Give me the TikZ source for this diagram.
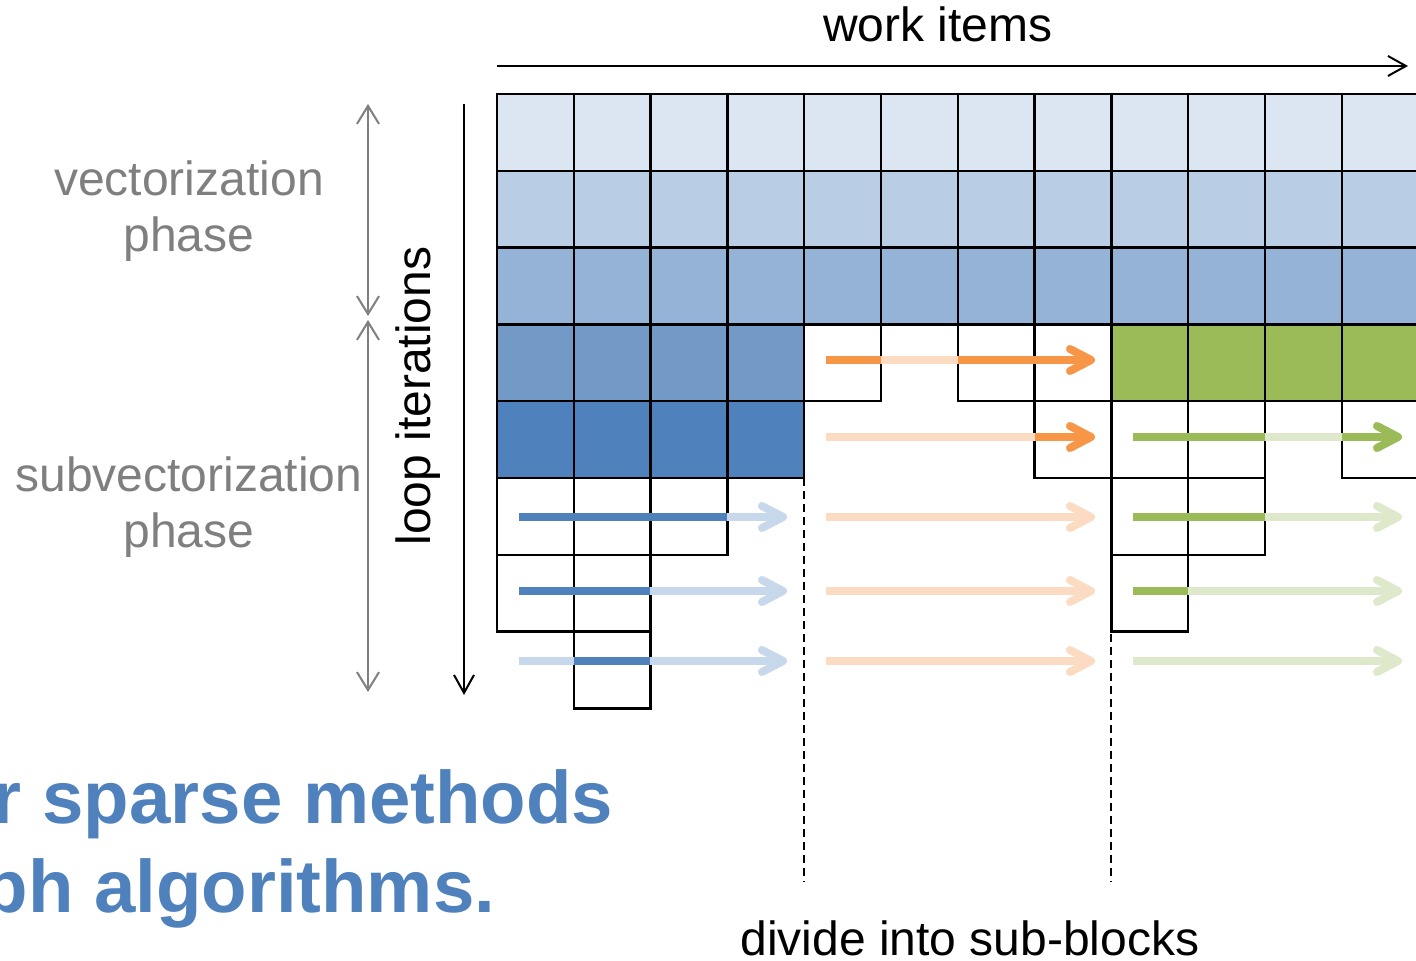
\documentclass[tikz,border=0pt]{standalone}
\usepackage{fontspec}
\setmainfont{Liberation Sans}
\usetikzlibrary{arrows.meta}

\definecolor{rowA}{HTML}{DCE6F2}
\definecolor{rowB}{HTML}{B9CDE5}
\definecolor{rowC}{HTML}{95B3D7}
\definecolor{rowD}{HTML}{7399C6}
\definecolor{rowE}{HTML}{4F81BD}
\definecolor{grn}{HTML}{9BBB59}
\definecolor{orn}{HTML}{F79646}
\definecolor{lblue}{HTML}{C8D8EC}
\definecolor{lorn}{HTML}{FBDCC2}
\definecolor{lgrn}{HTML}{DEE9CB}
\definecolor{phasegray}{HTML}{7F7F7F}
\definecolor{titleblue}{HTML}{4F81BD}

% one grid cell: column, row, fill colour
\newcommand\gcell[3]{%
  \draw[cellline, fill=#3] ({497+#1*76.8},{94+#2*76.8}) rectangle ++(76.8,76.8);}
% one bar piece of a lane arrow: y, x from, x to, colour
\newcommand\seg[4]{\draw[barline, #4] (#2,#1) -- (#3,#1);}
% open arrow head of a lane arrow: y, apex x, colour
\newcommand\chev[3]{\draw[chevline, #3] ({#2-21},{#1-11}) -- (#2,#1) -- ({#2-21},{#1+11});}

\begin{document}
\begin{tikzpicture}[x=0.25pt, y=-0.25pt,
  cellline/.style={draw=black, line width=0.6pt},
  barline/.style={line width=1.8pt, line cap=butt},
  chevline/.style={line width=2pt, line cap=round, line join=round},
  axisarrow/.style={draw=black, line width=0.5pt, -{Straight Barb[length=4.5pt,width=5pt]}},
  phasearrow/.style={draw=phasegray, line width=0.5pt,
    {Straight Barb[length=4.5pt,width=5.5pt]}-{Straight Barb[length=4.5pt,width=5.5pt]}},
  divider/.style={draw=black, line width=0.5pt, dash pattern=on 2pt off 1.25pt},
  lbl/.style={font=\fontsize{12}{14}\selectfont, inner sep=0pt, anchor=base},
  phaselbl/.style={lbl, text=phasegray},
  bigblue/.style={font=\fontsize{18.6}{22}\selectfont\bfseries, text=titleblue, inner sep=0pt, anchor=base east}
]
\useasboundingbox (0,0) rectangle (1416,961);
\begin{scope}
\clip (0,0) rectangle (1416,961);

% ---- full rows of the vectorization phase
\foreach \c in {0,...,11} {
  \gcell{\c}{0}{rowA}
  \gcell{\c}{1}{rowB}
  \gcell{\c}{2}{rowC}
}
% ---- fourth row
\foreach \c in {0,...,3} { \gcell{\c}{3}{rowD} }
\gcell{4}{3}{white}
\gcell{6}{3}{white}
\gcell{7}{3}{white}
\foreach \c in {8,...,11} { \gcell{\c}{3}{grn} }
% ---- fifth row
\foreach \c in {0,...,3} { \gcell{\c}{4}{rowE} }
\gcell{7}{4}{white}
\gcell{8}{4}{white}
\gcell{9}{4}{white}
\gcell{11}{4}{white}
% ---- remaining ragged rows
\gcell{0}{5}{white}
\gcell{1}{5}{white}
\gcell{2}{5}{white}
\gcell{8}{5}{white}
\gcell{9}{5}{white}
\gcell{0}{6}{white}
\gcell{1}{6}{white}
\gcell{8}{6}{white}
\gcell{1}{7}{white}

% ---- sub-block dividers
\coordinate (d1top) at (804,478);
\coordinate (d1bot) at (804,882);
\coordinate (d2top) at (1111,478);
\coordinate (d2bot) at (1111,882);
\draw[divider] (d1top) -- (d1bot);
\draw[divider] (d2top) -- (d2bot);

% ---- lane arrows, blue block
\seg{517}{519}{727}{rowE}  \seg{517}{727}{783}{lblue}  \chev{517}{783}{lblue}
\seg{591}{519}{650}{rowE}  \seg{591}{650}{783}{lblue}  \chev{591}{783}{lblue}
\seg{661}{519}{574}{lblue} \seg{661}{574}{650}{rowE}   \seg{661}{650}{783}{lblue} \chev{661}{783}{lblue}

% ---- lane arrows, orange block
\seg{360}{826}{881}{orn}   \seg{360}{881}{958}{lorn}   \seg{360}{958}{1091}{orn} \chev{360}{1091}{orn}
\seg{437}{826}{1035}{lorn} \seg{437}{1035}{1091}{orn}  \chev{437}{1091}{orn}
\seg{517}{826}{1091}{lorn} \chev{517}{1091}{lorn}
\seg{591}{826}{1091}{lorn} \chev{591}{1091}{lorn}
\seg{661}{826}{1091}{lorn} \chev{661}{1091}{lorn}

% ---- lane arrows, green block
\seg{437}{1133}{1265}{grn} \seg{437}{1265}{1342}{lgrn} \seg{437}{1342}{1398}{grn} \chev{437}{1398}{grn}
\seg{517}{1133}{1265}{grn} \seg{517}{1265}{1398}{lgrn} \chev{517}{1398}{lgrn}
\seg{591}{1133}{1188}{grn} \seg{591}{1188}{1398}{lgrn} \chev{591}{1398}{lgrn}
\seg{661}{1133}{1398}{lgrn} \chev{661}{1398}{lgrn}

% ---- axes
\coordinate (wiL) at (497,66);
\coordinate (wiR) at (1408,66);
\draw[axisarrow] (wiL) -- (wiR);
\node[lbl] (workitems) at (938,42) {work items};

\coordinate (liT) at (464,104);
\coordinate (liB) at (464,695);
\draw[axisarrow] (liT) -- (liB);
\node[lbl, rotate=90] (loopit) at (430,396) {loop iterations};

% ---- phase extents
\coordinate (pvT) at (368,104);
\coordinate (pvB) at (368,316);
\coordinate (psT) at (368,320);
\coordinate (psB) at (368,692);
\draw[phasearrow] (pvT) -- (pvB);
\draw[phasearrow] (psT) -- (psB);
\node[phaselbl] (vec1) at (189,196) {vectorization};
\node[phaselbl] (vec2) at (189,252) {phase};
\node[phaselbl] (sub1) at (189,492) {subvectorization};
\node[phaselbl] (sub2) at (189,548) {phase};

% ---- caption
\node[lbl] (divide) at (970,956) {divide into sub-blocks};

% ---- slide text, running on past the left edge
\node[bigblue] (sparse) at (614,824) {r sparse methods};
\node[bigblue] (graph) at (496,913) {ph algorithms.};
\end{scope}
\end{tikzpicture}
\end{document}
